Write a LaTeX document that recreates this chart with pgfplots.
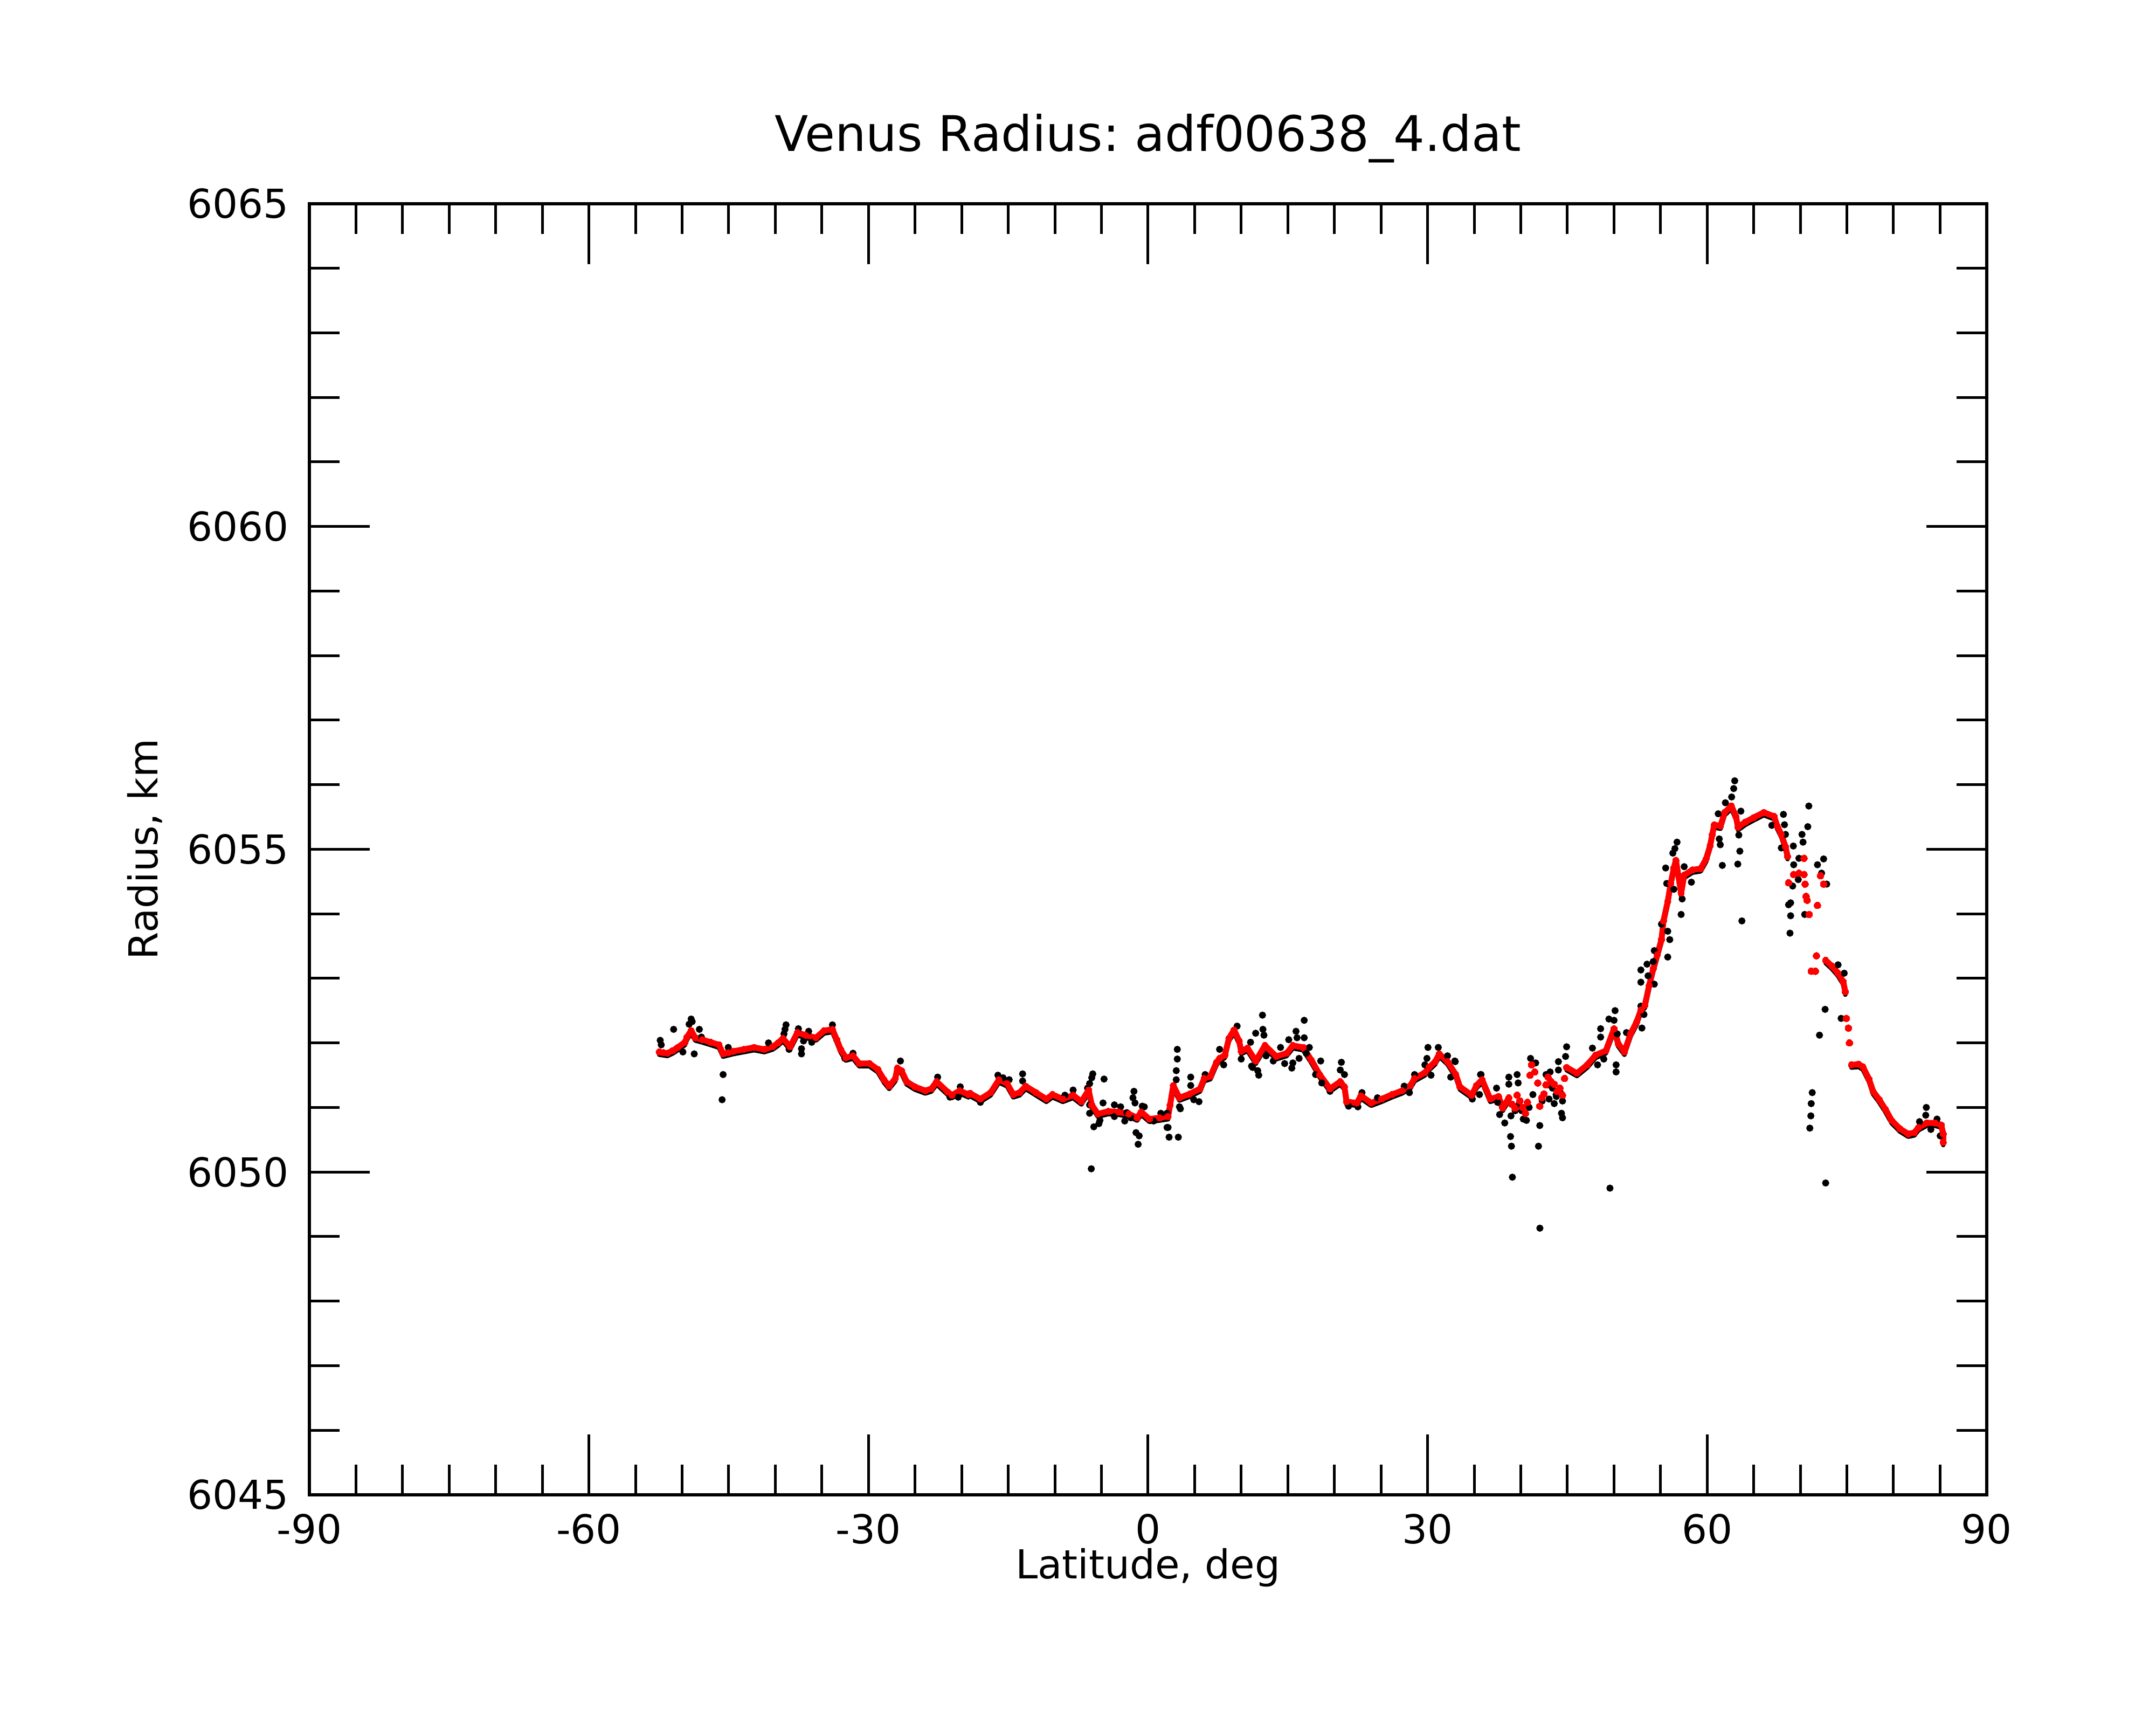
\documentclass[border=0pt]{standalone}
\usepackage{pgfplots}
\usepackage{pgfplotstable}
\pgfplotsset{compat=1.18}
\usepackage{fontspec}
\setmainfont{DejaVu Sans}
\frenchspacing

\pgfplotstableread{
x y
-52.46 6051.86
-52.00 6051.85
-51.58 6051.84
-51.00 6051.88
-50.47 6051.93
-49.70 6052.01
-49.48 6052.09
-49.03 6052.19
-48.59 6052.08
-47.82 6052.05
-46.93 6052.01
-46.05 6051.97
-45.60 6051.83
-45.05 6051.85
-44.50 6051.87
-43.39 6051.90
-42.28 6051.93
-41.18 6051.90
-40.29 6051.94
-39.70 6052.00
-39.18 6052.07
-38.41 6051.94
-37.63 6052.16
-36.75 6052.12
-35.64 6052.08
-34.76 6052.19
-33.87 6052.21
-33.40 6052.05
-32.99 6051.90
-32.43 6051.77
-31.66 6051.80
-30.99 6051.68
-29.89 6051.68
-29.00 6051.59
-28.34 6051.43
-27.78 6051.33
-27.12 6051.45
-26.90 6051.61
-26.46 6051.57
-25.90 6051.40
-25.02 6051.32
-23.91 6051.26
-23.25 6051.29
-22.69 6051.40
-21.50 6051.24
-21.04 6051.19
-20.21 6051.26
-19.27 6051.20
-19.10 6051.22
-17.99 6051.13
-16.89 6051.23
-16.00 6051.43
-15.12 6051.37
-14.46 6051.20
-13.79 6051.23
-13.13 6051.33
-12.02 6051.23
-10.91 6051.13
-10.25 6051.20
-9.14 6051.13
-8.04 6051.19
-7.15 6051.09
-6.38 6051.27
-6.04 6051.04
-5.38 6050.90
-4.27 6050.94
-3.16 6050.93
-2.06 6050.90
-1.17 6050.84
-0.73 6050.93
0.15 6050.82
1.26 6050.84
2.15 6050.86
2.37 6051.04
2.71 6051.34
3.37 6051.15
4.48 6051.21
5.58 6051.29
6.03 6051.45
6.69 6051.48
7.35 6051.70
7.68 6051.76
8.24 6051.81
8.68 6052.07
9.23 6052.20
9.78 6052.03
10.00 6051.87
10.67 6051.92
11.56 6051.72
12.55 6051.96
13.77 6051.79
14.88 6051.84
15.54 6051.96
16.65 6051.93
17.54 6051.73
18.42 6051.51
19.53 6051.29
20.63 6051.40
21.08 6051.32
21.30 6051.09
22.40 6051.07
22.85 6051.18
23.95 6051.07
25.06 6051.13
26.17 6051.20
27.27 6051.26
28.16 6051.34
28.60 6051.45
29.71 6051.54
30.15 6051.62
30.81 6051.71
31.26 6051.83
32.14 6051.71
33.03 6051.51
33.47 6051.32
34.74 6051.19
35.24 6051.34
35.85 6051.43
36.73 6051.13
37.62 6051.17
38.06 6050.99
38.72 6051.15
}\redA

\pgfplotstableread{
x y
44.92 6051.62
46.03 6051.53
47.13 6051.66
48.02 6051.81
49.13 6051.88
50.01 6052.22
50.46 6051.99
51.12 6051.86
51.78 6052.14
52.45 6052.33
52.89 6052.51
53.33 6052.59
53.78 6052.89
54.22 6053.15
54.66 6053.37
55.10 6053.60
55.32 6053.89
55.77 6054.19
56.10 6054.47
56.43 6054.71
56.65 6054.83
57.21 6054.32
57.54 6054.60
58.42 6054.68
59.31 6054.70
59.89 6054.85
60.33 6055.06
60.55 6055.23
60.77 6055.38
61.43 6055.36
61.88 6055.57
62.60 6055.67
63.09 6055.51
63.32 6055.34
64.09 6055.42
64.98 6055.49
66.08 6055.57
67.19 6055.51
67.52 6055.36
67.96 6055.23
68.41 6055.04
68.63 6054.89
}\redE

\pgfplotstableread{
x y
72.72 6053.28
73.39 6053.19
74.05 6053.08
74.60 6052.95
74.83 6052.79
}\redC

\pgfplotstableread{
x y
75.49 6051.66
76.26 6051.67
76.71 6051.63
77.37 6051.44
77.81 6051.25
78.48 6051.12
79.14 6050.97
79.80 6050.80
80.69 6050.67
81.58 6050.59
82.24 6050.61
82.68 6050.69
83.57 6050.76
84.45 6050.76
85.12 6050.73
85.34 6050.59
85.34 6050.46
}\redD

\pgfplotstableread{
x y
39.05 6051.05
39.39 6050.99
39.61 6051.19
39.90 6051.10
40.20 6051.00
40.50 6050.91
40.72 6051.08
41.00 6051.50
41.16 6051.66
41.50 6051.55
41.82 6051.38
42.04 6051.02
42.25 6051.15
42.49 6051.21
42.70 6051.35
42.93 6051.47
43.25 6051.40
43.59 6051.36
43.90 6051.25
44.20 6051.30
44.48 6051.19
44.70 6051.45
68.74 6054.48
69.29 6054.61
69.85 6054.63
70.40 6054.86
70.40 6054.61
70.51 6054.46
70.62 6054.27
70.73 6054.21
70.95 6053.99
71.84 6054.13
72.17 6054.59
72.50 6054.46
71.17 6053.11
71.62 6053.11
71.73 6053.35
74.94 6052.38
75.16 6052.23
75.27 6052.00
}\redB

\pgfplotstableread{
x y
-52.35 6052.04
-52.24 6051.97
-50.91 6052.21
-49.03 6052.37
-48.92 6052.33
-49.25 6052.29
-48.15 6052.21
-48.70 6051.83
-45.60 6051.51
-45.71 6051.12
-49.92 6051.86
-47.93 6052.09
-45.05 6051.93
-38.85 6052.28
-38.96 6052.21
-39.07 6052.14
-37.52 6052.22
-37.19 6051.91
-37.19 6051.83
-36.97 6052.03
-36.42 6052.18
-36.09 6052.01
-33.87 6052.28
-38.52 6051.90
-40.73 6052.00
-32.54 6051.76
-31.66 6051.84
-26.57 6051.72
-22.58 6051.47
-20.15 6051.32
-20.37 6051.16
-21.26 6051.16
-16.11 6051.50
-15.56 6051.46
-14.90 6051.43
-13.46 6051.52
-13.46 6051.41
-17.99 6051.08
-8.04 6051.27
-8.92 6051.19
-5.93 6051.52
-6.04 6051.46
-6.27 6051.37
-6.49 6051.30
-6.27 6051.04
-6.27 6050.91
-5.82 6050.70
-5.27 6050.75
-5.16 6050.80
-4.83 6051.07
-4.72 6051.44
-6.09 6050.05
-3.61 6051.04
-3.61 6050.86
-2.94 6051.01
-2.50 6050.79
-2.28 6050.92
-1.84 6050.84
-1.51 6051.25
-1.62 6051.15
-1.40 6051.07
-1.29 6050.61
-0.95 6050.56
-1.06 6050.43
-0.62 6051.02
-0.40 6051.01
0.60 6050.79
1.37 6050.91
2.03 6050.91
2.15 6050.69
2.26 6050.54
3.25 6050.54
3.03 6051.43
3.03 6051.57
3.14 6051.75
3.14 6051.90
3.47 6050.98
2.04 6050.69
3.37 6051.01
4.58 6051.47
4.58 6051.34
4.91 6051.12
5.47 6051.09
6.13 6051.51
7.68 6051.90
8.12 6051.66
9.56 6052.26
10.00 6051.75
11.00 6052.01
11.11 6051.64
11.77 6051.57
11.88 6051.50
11.55 6052.15
12.28 6052.43
12.33 6052.21
12.44 6052.12
11.23 6051.62
12.67 6051.80
13.44 6051.72
14.22 6051.93
14.66 6051.68
15.10 6052.05
15.43 6051.61
15.54 6051.69
15.88 6052.18
15.99 6052.08
16.21 6051.76
16.76 6052.35
16.76 6052.08
16.98 6051.84
17.31 6051.93
17.98 6051.51
18.53 6051.72
18.64 6051.38
19.53 6051.25
20.75 6051.70
20.63 6051.58
21.08 6051.51
21.52 6051.02
22.52 6051.01
22.96 6051.23
24.62 6051.15
27.49 6051.33
28.05 6051.23
28.60 6051.51
30.04 6051.93
29.93 6051.76
29.71 6051.66
30.37 6051.50
31.15 6051.93
32.14 6051.80
32.92 6051.72
32.48 6051.47
34.80 6051.13
35.68 6051.51
35.57 6051.20
32.97 6051.71
35.74 6051.51
37.40 6051.30
37.51 6051.08
37.73 6050.89
38.28 6050.76
38.72 6051.47
38.72 6051.36
38.95 6050.87
38.90 6050.55
39.00 6050.40
39.10 6049.92
39.61 6051.51
39.72 6051.38
40.27 6050.82
40.61 6050.80
41.05 6051.76
41.60 6051.69
42.04 6050.72
41.90 6050.40
42.05 6049.13
42.71 6051.51
43.15 6051.55
43.04 6051.13
43.59 6051.06
43.82 6051.17
44.04 6051.58
44.48 6051.10
44.37 6050.91
44.48 6050.84
44.04 6051.71
44.81 6051.79
44.92 6051.94
39.40 6050.95
39.80 6051.05
40.10 6050.95
40.90 6051.00
41.30 6051.20
42.30 6051.10
42.90 6051.35
43.40 6051.30
43.80 6051.20
44.20 6051.25
47.69 6051.92
48.24 6051.66
48.91 6051.75
48.57 6052.22
48.57 6052.09
49.46 6052.37
50.12 6052.50
50.01 6052.35
50.23 6051.66
50.23 6051.55
50.35 6052.14
49.57 6049.75
51.34 6052.16
52.89 6052.57
53.00 6052.23
53.22 6052.44
52.89 6052.94
52.89 6053.13
53.55 6053.22
53.66 6053.04
54.33 6052.91
54.22 6053.26
54.33 6053.43
55.10 6053.84
55.77 6053.73
55.99 6053.60
55.77 6053.33
55.55 6054.71
55.66 6054.47
56.43 6054.38
56.32 6054.94
56.54 6055.01
56.77 6055.11
57.32 6054.23
57.21 6053.99
58.31 6054.49
57.54 6054.73
61.19 6055.55
61.30 6055.16
61.41 6055.07
61.63 6054.75
61.96 6055.72
62.63 6055.81
62.85 6055.94
62.96 6056.06
63.40 6055.22
63.51 6054.97
63.29 6054.77
63.73 6053.89
63.62 6055.59
66.94 6055.37
68.19 6055.54
68.30 6055.38
68.41 6055.23
67.96 6055.02
69.25 6055.05
70.18 6055.23
70.29 6055.11
70.80 6055.35
70.91 6055.67
69.85 6054.86
69.29 6054.76
69.78 6054.53
69.18 6054.43
68.96 6054.17
68.74 6054.14
68.96 6053.97
68.89 6053.70
70.47 6053.99
71.84 6054.76
72.50 6054.85
72.83 6054.46
72.28 6054.63
72.66 6052.52
72.06 6052.12
74.38 6052.38
71.28 6051.23
71.17 6051.06
71.13 6050.87
71.02 6050.68
72.72 6049.83
74.05 6053.21
74.71 6053.08
83.52 6051.00
83.46 6050.88
84.01 6050.66
84.67 6050.82
85.01 6050.56
82.79 6050.78
}\blackpts

\begin{document}
\begin{tikzpicture}
\useasboundingbox (-57.4pt,-42.7pt) rectangle (342.6pt,277.3pt);
\begin{axis}[
  scale only axis,
  width=311.2pt, height=239.5pt,
  xmin=-90, xmax=90, ymin=6045, ymax=6065,
  xtick={-90,-60,-30,0,30,60,90},
  ytick={6045,6050,6055,6060,6065},
  minor x tick num=5,
  minor y tick num=4,
  tick align=inside,
  xtick pos=both, ytick pos=both,
  xticklabel pos=lower, yticklabel pos=left,
  major tick length=11.2pt,
  minor tick length=5.6pt,
  axis line style={line width=0.6pt},
  every tick/.style={black, line width=0.5pt},
  /pgf/number format/assume math mode=true,
  /pgf/number format/1000 sep={},
  tick label style={font=\fontsize{7.4}{9}\selectfont},
  yticklabel style={xshift=-0.3pt},
  label style={font=\fontsize{7.4}{9}\selectfont},
  xlabel={Latitude, deg},
  ylabel={Radius, km},
  xlabel style={at={(axis description cs:0.5,0)}, anchor=base, yshift=-15.6pt},
  ylabel style={at={(axis description cs:-0.0903,0.5)}, anchor=base},
  title={Venus Radius: adf00638\_4.dat},
  every axis title/.style={at={(0.5,1)}, anchor=base, yshift=9.7pt, font=\fontsize{9.1}{11}\selectfont},
]
% black shadow under red trace
\addplot[black, line width=0.85pt, line join=round, line cap=round, yshift=-0.5pt] table {\redA};
\addplot[black, line width=0.85pt, line join=round, line cap=round, yshift=-0.5pt] table {\redE};
\addplot[black, line width=0.85pt, line join=round, line cap=round, yshift=-0.5pt] table {\redC};
\addplot[black, line width=0.85pt, line join=round, line cap=round, yshift=-0.5pt] table {\redD};
\addplot[only marks, mark=*, mark size=0.45pt, black] table {\blackpts};
% red trace
\addplot[red, line width=1.1pt, line join=round, line cap=round, mark=*, mark size=0.6pt, mark options={fill=red, draw=red, line width=0pt}] table {\redA};
\addplot[red, line width=1.1pt, line join=round, line cap=round, mark=*, mark size=0.6pt, mark options={fill=red, draw=red, line width=0pt}] table {\redE};
\addplot[red, line width=1.1pt, line join=round, line cap=round, mark=*, mark size=0.6pt, mark options={fill=red, draw=red, line width=0pt}] table {\redC};
\addplot[red, line width=1.1pt, line join=round, line cap=round, mark=*, mark size=0.6pt, mark options={fill=red, draw=red, line width=0pt}] table {\redD};
\addplot[only marks, mark=*, mark size=0.63pt, red, mark options={fill=red, draw=red, line width=0pt}] table {\redB};
\end{axis}
\end{tikzpicture}
\end{document}
